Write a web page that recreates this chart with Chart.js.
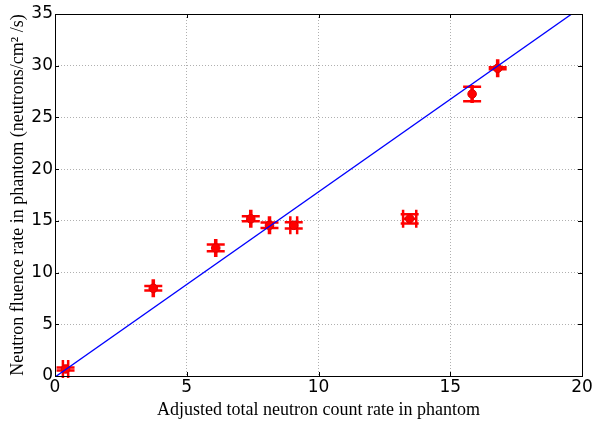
<!DOCTYPE html>
<html>
<head>
<meta charset="utf-8">
<script src="https://cdn.jsdelivr.net/npm/chart.js@4"></script>
<style>
    html, body { margin: 0; padding: 0; background: #fff; }
    #wrap { width: 595px; height: 424px; }
</style>
</head>
<body>
<div id="wrap"><canvas id="chart" width="595" height="424"></canvas></div>
<script>
// 측정값 (x: 보정된 계수율, y: 중성자 플루언스율)
const countRate = [0.4, 3.73, 6.1, 7.43, 8.14, 9.06, 13.46, 15.83, 16.8];
const fluenceRate = [0.68, 8.48, 12.38, 15.2, 14.57, 14.57, 15.2, 27.27, 29.75];
const countErr = [0.1, 0.02, 0.02, 0.02, 0.02, 0.13, 0.25, 0.02, 0.02];
const fluenceErr = [0.15, 0.22, 0.33, 0.25, 0.27, 0.3, 0.45, 0.7, 0.1];

// 맞춤 직선 끝점
const fitX = [0, 20];
const fitY = [-0.1, 35.7];

const xTicks = [0, 5, 10, 15, 20];
const yTicks = [0, 5, 10, 15, 20, 25, 30, 35];

const CAP = 9;

// 오차 막대
const errorBars = {
    id: 'errorBars',
    beforeDatasetsDraw(chart) {
        const ctx = chart.ctx;
        const xs = chart.scales.x;
        const ys = chart.scales.y;
        ctx.save();
        ctx.strokeStyle = '#ff0000';
        ctx.lineWidth = 2.5;
        countRate.forEach((x, i) => {
            const y = fluenceRate[i];
            const px = xs.getPixelForValue(x);
            const py = ys.getPixelForValue(y);
            const x0 = xs.getPixelForValue(x - countErr[i]);
            const x1 = xs.getPixelForValue(x + countErr[i]);
            const y0 = ys.getPixelForValue(y - fluenceErr[i]);
            const y1 = ys.getPixelForValue(y + fluenceErr[i]);
            ctx.beginPath();
            // 세로 막대 + 캡
            ctx.moveTo(px, y0); ctx.lineTo(px, y1);
            ctx.moveTo(px - CAP, y0); ctx.lineTo(px + CAP, y0);
            ctx.moveTo(px - CAP, y1); ctx.lineTo(px + CAP, y1);
            // 가로 막대 + 캡
            ctx.moveTo(x0, py); ctx.lineTo(x1, py);
            ctx.moveTo(x0, py - CAP); ctx.lineTo(x0, py + CAP);
            ctx.moveTo(x1, py - CAP); ctx.lineTo(x1, py + CAP);
            ctx.stroke();
        });
        ctx.restore();
    }
};

// 테두리와 안쪽 눈금
const frame = {
    id: 'frame',
    afterDraw(chart) {
        const ctx = chart.ctx;
        const a = chart.chartArea;
        const xs = chart.scales.x;
        const ys = chart.scales.y;
        ctx.save();
        ctx.strokeStyle = '#000';
        ctx.lineWidth = 1;
        ctx.beginPath();
        xTicks.forEach(v => {
            const p = Math.round(xs.getPixelForValue(v)) + 0.5;
            ctx.moveTo(p, a.bottom); ctx.lineTo(p, a.bottom - 4);
            ctx.moveTo(p, a.top); ctx.lineTo(p, a.top + 4);
        });
        yTicks.forEach(v => {
            const p = Math.round(ys.getPixelForValue(v)) + 0.5;
            ctx.moveTo(a.left, p); ctx.lineTo(a.left + 4, p);
            ctx.moveTo(a.right, p); ctx.lineTo(a.right - 4, p);
        });
        ctx.stroke();
        ctx.strokeRect(Math.round(a.left) + 0.5, Math.round(a.top) + 0.5,
            Math.round(a.right - a.left), Math.round(a.bottom - a.top));
        ctx.restore();
    }
};

const tickFont = { family: 'DejaVu Sans', size: 17 };
const titleFont = { family: 'Liberation Serif', size: 18 };

new Chart(document.getElementById('chart'), {
    type: 'scatter',
    data: {
        datasets: [
            {
                label: 'fit',
                data: fitX.map((x, i) => ({ x, y: fitY[i] })),
                showLine: true,
                borderColor: '#0000ff',
                borderWidth: 1.3,
                pointRadius: 0,
                fill: false
            },
            {
                label: 'data',
                data: countRate.map((x, i) => ({ x, y: fluenceRate[i] })),
                backgroundColor: '#ff0000',
                borderColor: '#dd0000',
                borderWidth: 1,
                pointRadius: 4.3
            }
        ]
    },
    options: {
        responsive: false,
        animation: false,
        layout: { padding: { left: 0, top: 14, right: 13, bottom: 0 } },
        plugins: {
            legend: { display: false },
            tooltip: { enabled: false }
        },
        scales: {
            x: {
                type: 'linear',
                min: 0,
                max: 20,
                afterBuildTicks: s => { s.ticks = xTicks.map(v => ({ value: v })); },
                afterFit: s => { s.height = 48; },
                ticks: { font: tickFont, color: '#000', padding: 1, maxRotation: 0 },
                grid: { color: '#b0b0b0', lineWidth: 1, drawTicks: false },
                border: { display: false, dash: [1, 2] },
                title: {
                    display: true,
                    text: 'Adjusted total neutron count rate in phantom',
                    font: titleFont,
                    color: '#000',
                    padding: { top: 0, bottom: 3 }
                }
            },
            y: {
                type: 'linear',
                min: 0,
                max: 35,
                afterBuildTicks: s => { s.ticks = yTicks.map(v => ({ value: v })); },
                afterFit: s => { s.width = 55; },
                ticks: { font: tickFont, color: '#000', padding: 2 },
                grid: { color: '#b0b0b0', lineWidth: 1, drawTicks: false },
                border: { display: false, dash: [1, 2] },
                title: {
                    display: true,
                    text: 'Neutron fluence rate in phantom (neutrons/cm² /s)',
                    font: titleFont,
                    color: '#000',
                    padding: { top: 7, bottom: 0 }
                }
            }
        }
    },
    plugins: [errorBars, frame]
});
</script>
</body>
</html>
